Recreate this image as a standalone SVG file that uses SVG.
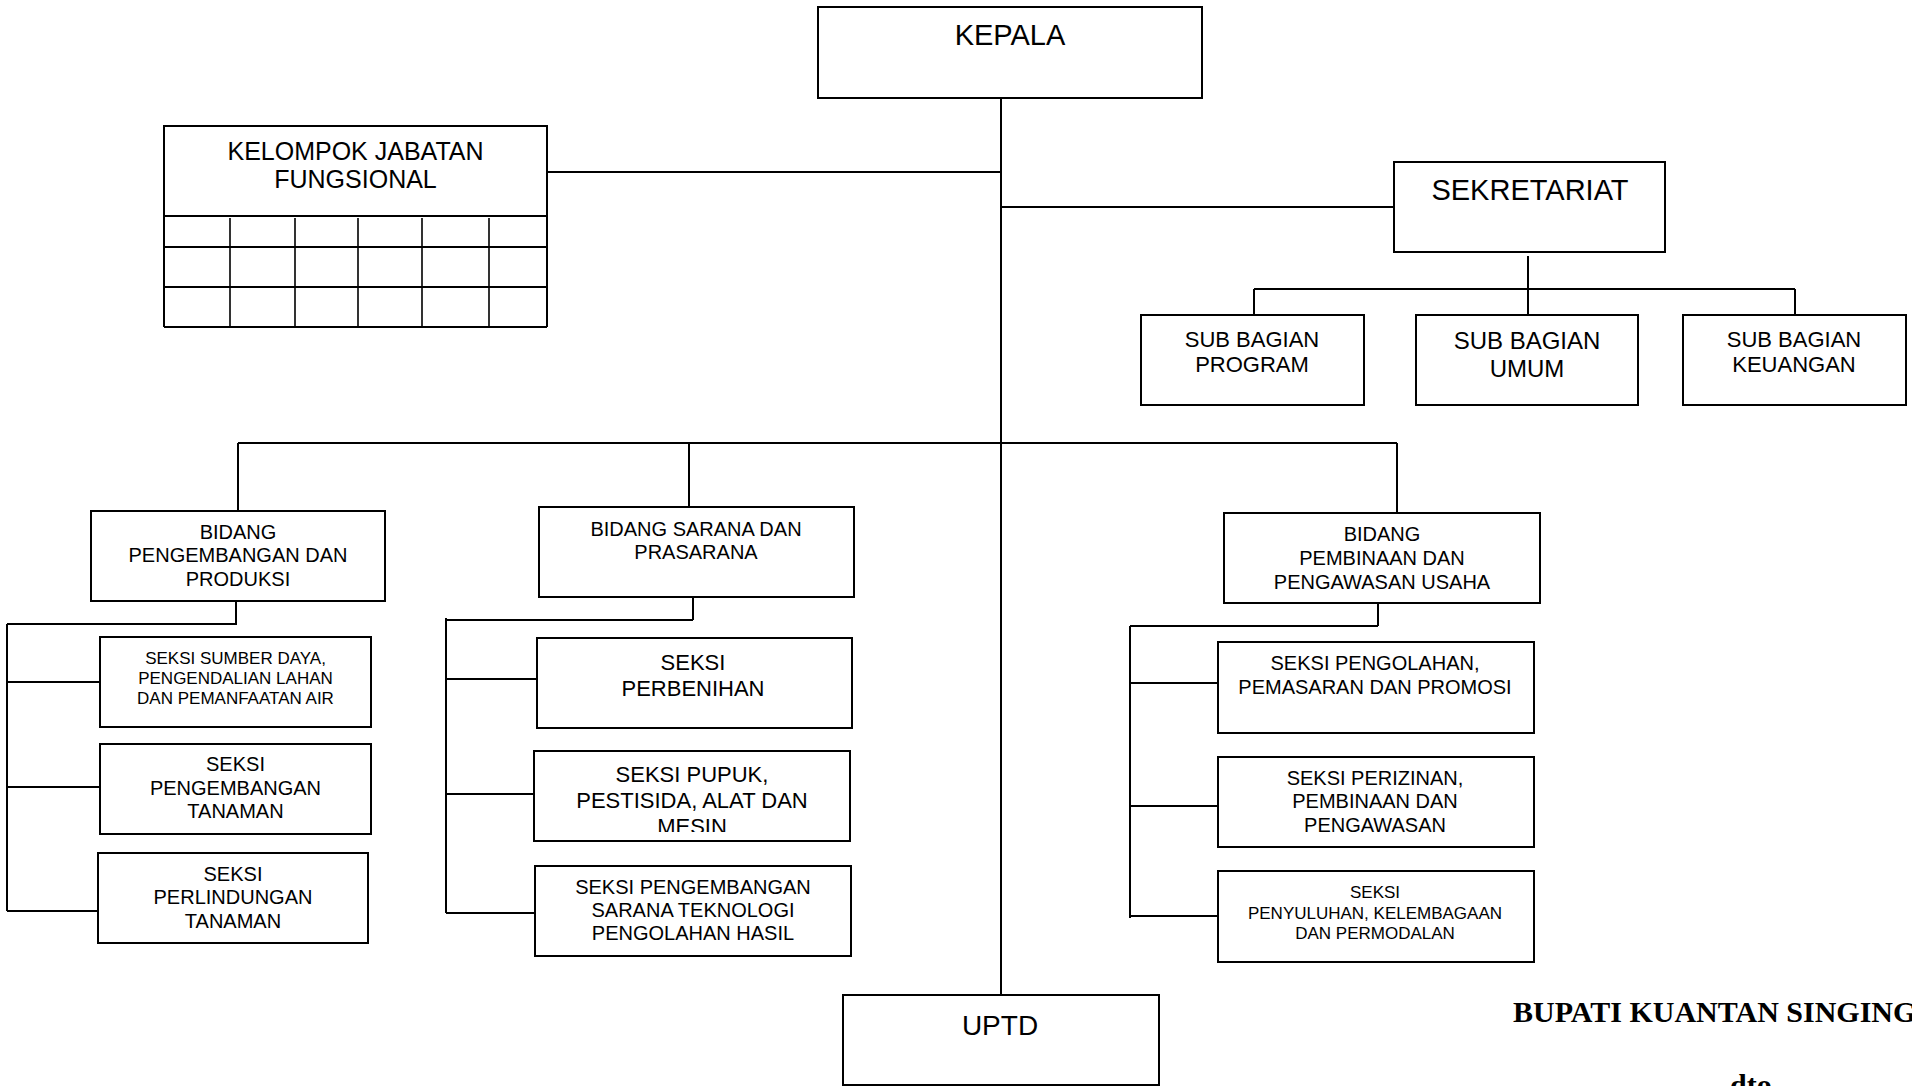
<svg xmlns="http://www.w3.org/2000/svg" width="1912" height="1086" viewBox="0 0 1912 1086">
<defs>
<style>
.box{fill:#fff;stroke:#000;stroke-width:2}
.ln{stroke:#000;stroke-width:2;fill:none}
.gl{stroke:#000;stroke-width:1.6;fill:none}
text{font-family:"Liberation Sans",Arial,sans-serif;text-anchor:middle;fill:#000}
.sig{font-family:"Liberation Serif","Times New Roman",serif;font-weight:bold;text-anchor:start}
</style>
<clipPath id="clipPupuk"><rect x="535" y="752" width="314" height="80"/></clipPath>
</defs>
<rect width="1912" height="1086" fill="#fff"/>

<g id="connectors">
<path class="ln" d="M1001 98 V995"/>
<path class="ln" d="M547 172 H1001"/>
<path class="ln" d="M1001 207 H1394"/>
<path class="ln" d="M1528 256 V315"/>
<path class="ln" d="M1254 289 H1795 M1254 289 V315 M1795 289 V315"/>
<path class="ln" d="M238 443 H1397 M238 443 V511 M689 443 V507 M1397 443 V513"/>
<path class="ln" d="M236 601 V625 M7 624 H236 M7 624 V911 M7 682 H100 M7 787 H100 M7 911 H98"/>
<path class="ln" d="M693 597 V620 M446 620 H693 M446 618 V913 M446 679 H537 M446 794 H534 M446 913 H535"/>
<path class="ln" d="M1378 603 V626 M1130 626 H1378 M1130 626 V918 M1130 683 H1220 M1130 806 H1220 M1130 916 H1220"/>
</g>

<g id="kepala">
<rect class="box" x="818" y="7" width="384" height="91"/>
<text x="1010" y="45" font-size="29">KEPALA</text>
</g>

<g id="kelompok-jabatan-fungsional">
<rect class="box" x="164" y="126" width="383" height="90"/>
<text x="355.5" y="160" font-size="25">KELOMPOK JABATAN</text>
<text x="355.5" y="188" font-size="25">FUNGSIONAL</text>
<path class="ln" d="M164 216 V327 M547 216 V327 M164 247 H547 M164 287 H547 M164 327 H547"/>
<path class="gl" d="M230 218 V326 M295 218 V326 M358 218 V326 M422 218 V326 M489 218 V326"/>
</g>

<g id="sekretariat">
<rect class="box" x="1394" y="162" width="271" height="90"/>
<text x="1530" y="200" font-size="29">SEKRETARIAT</text>
</g>

<g id="sub-bagian-program">
<rect class="box" x="1141" y="315" width="223" height="90"/>
<text x="1252" y="347" font-size="22">SUB BAGIAN</text>
<text x="1252" y="372" font-size="22">PROGRAM</text>
</g>

<g id="sub-bagian-umum">
<rect class="box" x="1416" y="315" width="222" height="90"/>
<text x="1527" y="349" font-size="24">SUB BAGIAN</text>
<text x="1527" y="377" font-size="24">UMUM</text>
</g>

<g id="sub-bagian-keuangan">
<rect class="box" x="1683" y="315" width="223" height="90"/>
<text x="1794" y="347" font-size="22">SUB BAGIAN</text>
<text x="1794" y="372" font-size="22">KEUANGAN</text>
</g>

<g id="bidang-pengembangan">
<rect class="box" x="91" y="511" width="294" height="90"/>
<text x="238" y="539" font-size="20">BIDANG</text>
<text x="238" y="562" font-size="20">PENGEMBANGAN DAN</text>
<text x="238" y="586" font-size="20">PRODUKSI</text>
</g>

<g id="bidang-sarana">
<rect class="box" x="539" y="507" width="315" height="90"/>
<text x="696" y="536" font-size="20">BIDANG SARANA DAN</text>
<text x="696" y="559" font-size="20">PRASARANA</text>
</g>

<g id="bidang-pembinaan">
<rect class="box" x="1224" y="513" width="316" height="90"/>
<text x="1382" y="541" font-size="20">BIDANG</text>
<text x="1382" y="565" font-size="20">PEMBINAAN DAN</text>
<text x="1382" y="589" font-size="20">PENGAWASAN USAHA</text>
</g>

<g id="seksi-sumber-daya">
<rect class="box" x="100" y="637" width="271" height="90"/>
<text x="235.5" y="664" font-size="17">SEKSI SUMBER DAYA,</text>
<text x="235.5" y="684" font-size="17">PENGENDALIAN LAHAN</text>
<text x="235.5" y="704" font-size="17">DAN PEMANFAATAN AIR</text>
</g>

<g id="seksi-pengembangan-tanaman">
<rect class="box" x="100" y="744" width="271" height="90"/>
<text x="235.5" y="771" font-size="20">SEKSI</text>
<text x="235.5" y="795" font-size="20">PENGEMBANGAN</text>
<text x="235.5" y="818" font-size="20">TANAMAN</text>
</g>

<g id="seksi-perlindungan-tanaman">
<rect class="box" x="98" y="853" width="270" height="90"/>
<text x="233" y="881" font-size="20">SEKSI</text>
<text x="233" y="904" font-size="20">PERLINDUNGAN</text>
<text x="233" y="928" font-size="20">TANAMAN</text>
</g>

<g id="seksi-perbenihan">
<rect class="box" x="537" y="638" width="315" height="90"/>
<text x="693" y="670" font-size="22">SEKSI</text>
<text x="693" y="695.5" font-size="22">PERBENIHAN</text>
</g>

<g id="seksi-pupuk">
<rect class="box" x="534" y="751" width="316" height="90"/>
<g clip-path="url(#clipPupuk)">
<text x="692" y="782" font-size="22">SEKSI PUPUK,</text>
<text x="692" y="808" font-size="22">PESTISIDA, ALAT DAN</text>
<text x="692" y="834" font-size="22">MESIN</text>
</g>
</g>

<g id="seksi-pengembangan-sarana">
<rect class="box" x="535" y="866" width="316" height="90"/>
<text x="693" y="894" font-size="20">SEKSI PENGEMBANGAN</text>
<text x="693" y="917" font-size="20">SARANA TEKNOLOGI</text>
<text x="693" y="940" font-size="20">PENGOLAHAN HASIL</text>
</g>

<g id="seksi-pengolahan">
<rect class="box" x="1218" y="642" width="316" height="91"/>
<text x="1375" y="670" font-size="20">SEKSI PENGOLAHAN,</text>
<text x="1375" y="694" font-size="20">PEMASARAN DAN PROMOSI</text>
</g>

<g id="seksi-perizinan">
<rect class="box" x="1218" y="757" width="316" height="90"/>
<text x="1375" y="785" font-size="20">SEKSI PERIZINAN,</text>
<text x="1375" y="808" font-size="20">PEMBINAAN DAN</text>
<text x="1375" y="831.5" font-size="20">PENGAWASAN</text>
</g>

<g id="seksi-penyuluhan">
<rect class="box" x="1218" y="871" width="316" height="91"/>
<text x="1375" y="898" font-size="17">SEKSI</text>
<text x="1375" y="919" font-size="17">PENYULUHAN, KELEMBAGAAN</text>
<text x="1375" y="939" font-size="17">DAN PERMODALAN</text>
</g>

<g id="uptd">
<rect class="box" x="843" y="995" width="316" height="90"/>
<text x="1000" y="1035" font-size="28">UPTD</text>
</g>

<g id="signature">
<text class="sig" x="1513" y="1022" font-size="30">BUPATI KUANTAN SINGINGI</text>
<text class="sig" x="1730" y="1095" font-size="30">dto</text>
</g>
</svg>
